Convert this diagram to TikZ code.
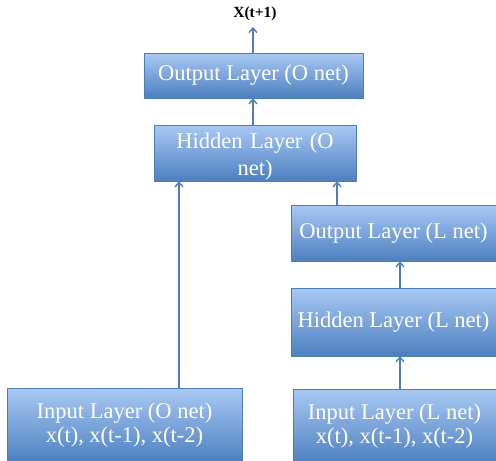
\documentclass[tikz,border=0pt]{standalone}
\usepackage{fontspec}
\setmainfont{Liberation Serif}
\usetikzlibrary{arrows.meta}
\definecolor{boxtop}{HTML}{A9C9F4}
\definecolor{boxbot}{HTML}{4C7FC0}
\definecolor{boxline}{HTML}{4A7EBB}
\definecolor{arrcol}{HTML}{4F7DB8}
\tikzset{
  layerfont/.style={text=white, align=center, font=\fontsize{22.5}{24}\selectfont},
  layer/.style={rectangle, draw=boxline, line width=0.6pt, top color=boxtop, bottom color=boxbot,
    inner sep=2pt, layerfont},
  arr/.style={draw=arrcol, line width=1.6pt, -{Straight Barb[length=4.5pt,width=8pt,line width=1.4pt]}},
}
\begin{document}
\begin{tikzpicture}[x=1pt,y=-1pt]
\useasboundingbox (0,0) rectangle (496,461);
\node[layer, minimum width=219pt, minimum height=45pt] (outO) at (253.5,75.5) {Output Layer (O net)};
\node[layer, minimum width=202pt, minimum height=56pt] (hidO) at (255,153) {};
\node[layerfont, text width=195pt] (hidOt) at (255,157) {Hidden Layer (O\\[3pt] net)};
\node[layer, minimum width=205pt, minimum height=56pt] (outL) at (393.5,233) {Output Layer (L net)};
\node[layer, minimum width=205pt, minimum height=68pt] (hidL) at (393.5,322) {Hidden Layer (L net)};
\node[layer, minimum width=235pt, minimum height=75pt] (inO) at (124.5,425.5) {Input Layer (O net)\\x(t), x(t-1), x(t-2)};
\node[layer, minimum width=203pt, minimum height=75pt] (inL) at (394.5,426.5) {Input Layer (L net)\\x(t), x(t-1), x(t-2)};
\node[font=\fontsize{15.5}{17}\selectfont\bfseries] (xt) at (255,14) {X(t+1)};
\coordinate (xtb) at (253,27);
\draw[arr] (outO.north -| xtb) -- (xtb);
\draw[arr] (hidO.north -| xtb) -- (outO.south -| xtb);
\draw[arr] ([xshift=54.5pt]inO.north) -- ([xshift=54.5pt]inO.north |- hidO.south);
\draw[arr] ([xshift=-56.5pt]outL.north) -- ([xshift=-56.5pt]outL.north |- hidO.south);
\draw[arr] ([xshift=6.5pt]hidL.north) -- ([xshift=6.5pt]hidL.north |- outL.south);
\draw[arr] ([xshift=6.5pt]hidL.north |- inL.north) -- ([xshift=6.5pt]hidL.south);
\end{tikzpicture}
\end{document}
